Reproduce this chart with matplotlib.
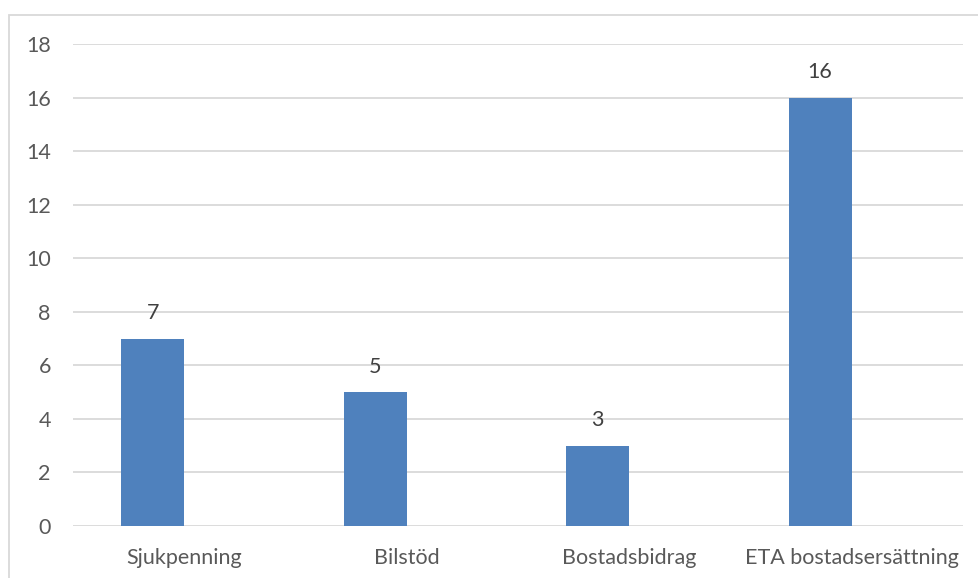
import matplotlib
matplotlib.use("Agg")
import matplotlib.pyplot as plt
from matplotlib.patches import Rectangle
import numpy as np

categories = ["Sjukpenning", "Bilstöd", "Bostadsbidrag", "ETA bostadsersättning"]
values = [7, 5, 3, 16]
y_ticks = [0, 2, 4, 6, 8, 10, 12, 14, 16, 18]

W, H = 979, 578
fig = plt.figure(figsize=(W / 100, H / 100), dpi=100)
fig.patch.set_facecolor("white")
plt.rcParams["font.family"] = ["Lato", "DejaVu Sans"]

# chart frame
fig.patches.append(Rectangle((9 / W, -0.1), 1.2, (H - 15) / H + 0.1,
                             transform=fig.transFigure, fill=False,
                             edgecolor="#D9D9D9", linewidth=1.3))

ax = fig.add_axes([73 / W, (H - 526) / H, (963 - 73) / W, (526 - 44) / H])
ax.set_xlim(-0.5, len(categories) - 0.5)
ax.set_ylim(0, 18)

x = np.arange(len(categories))
bw = 0.284
ax.bar(x - bw / 2, values, width=bw, color="#4F81BD", zorder=3)

for xi, v in zip(x, values):
    ax.annotate(str(v), (xi - bw / 2, v), xytext=(0, 11), textcoords="offset points",
                ha="center", va="bottom", fontsize=15.5, color="#404040")

ax.set_yticks(y_ticks)
ax.set_yticklabels([str(t) for t in y_ticks])
ax.set_xticks(x)
ax.set_xticklabels(categories)
ax.tick_params(axis="both", length=0, labelsize=15.5, colors="#595959")
ax.tick_params(axis="y", pad=16)
ax.tick_params(axis="x", pad=16)
ax.grid(axis="y", color="#D9D9D9", linewidth=1.3, zorder=0)
for s in ax.spines.values():
    s.set_visible(False)

fig.savefig("out.png", dpi=100)
